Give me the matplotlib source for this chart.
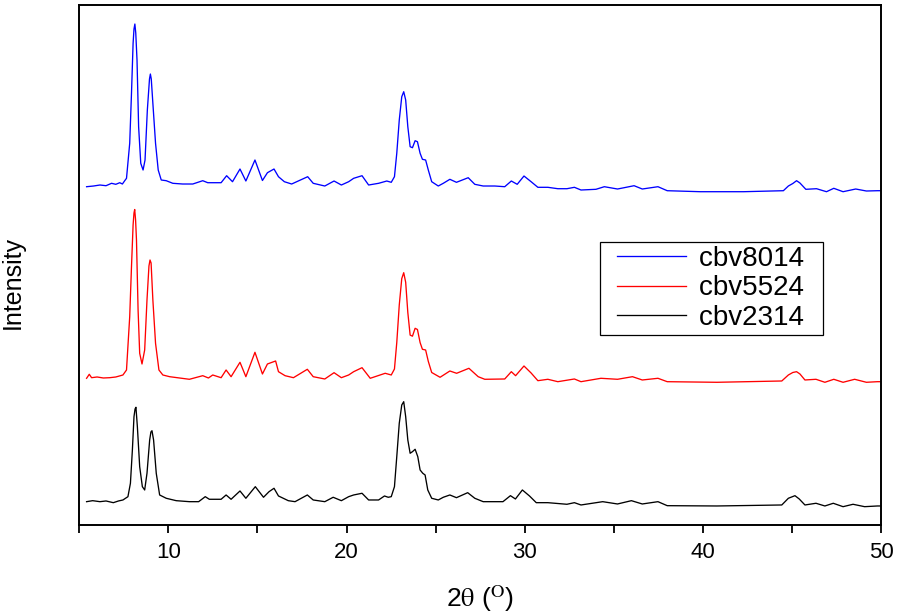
import numpy as np
import matplotlib
matplotlib.use("Agg")
import matplotlib.pyplot as plt
from matplotlib.legend_handler import HandlerLine2D

plt.rcParams["font.family"] = ["Liberation Sans", "DejaVu Sans"]
plt.rcParams["mathtext.fontset"] = "stix"

# XRD patterns: (2-theta in degrees, stacked intensity in arbitrary units)
cbv8014 = np.array([
    (5.41, 338.3), (5.8, 339.0), (6.16, 340.0), (6.5, 339.3), (6.81, 341.7), (7.05, 340.7),
    (7.27, 342.3), (7.42, 341.0), (7.55, 344.3), (7.65, 346.7), (7.83, 381.7), (7.93, 431.7),
    (8.02, 481.7), (8.07, 496.0), (8.12, 501.0), (8.17, 492.0), (8.24, 465.0), (8.33, 398.3),
    (8.45, 361.7), (8.58, 355.0), (8.69, 365.0), (8.82, 415.0), (8.94, 446.0), (8.99, 451.0),
    (9.04, 446.0), (9.13, 421.7), (9.28, 381.7), (9.43, 355.0), (9.60, 345.0), (9.88, 344.3),
    (10.25, 341.7), (10.8, 341.0), (11.37, 341.0), (11.93, 344.3), (12.21, 342.3),
    (12.96, 342.3), (13.27, 349.3), (13.60, 343.3), (14.02, 356.0), (14.35, 344.0),
    (14.86, 365.0), (15.28, 344.5), (15.56, 352.3), (15.93, 356.0), (16.18, 348.3),
    (16.51, 343.3), (16.92, 341.0), (17.82, 348.3), (18.13, 341.7), (18.78, 339.0),
    (19.30, 344.0), (19.71, 340.0), (20.12, 343.3), (20.40, 346.7), (20.87, 349.3),
    (21.24, 340.0), (21.80, 341.7), (22.26, 344.0), (22.51, 342.7), (22.69, 348.3),
    (22.82, 371.7), (22.96, 405.0), (23.10, 428.3), (23.21, 433.3), (23.32, 425.0),
    (23.44, 398.3), (23.57, 378.3), (23.70, 377.3), (23.85, 384.3), (23.98, 383.3),
    (24.13, 371.7), (24.26, 365.7), (24.44, 365.0), (24.59, 355.0), (24.78, 343.3),
    (25.15, 339.0), (25.43, 341.7), (25.80, 345.7), (26.17, 342.7), (26.83, 347.3),
    (27.20, 340.7), (27.67, 339.0), (28.32, 339.0), (28.88, 338.3), (29.25, 344.0),
    (29.58, 340.7), (29.96, 349.0), (30.36, 343.3), (30.74, 337.7), (31.30, 337.7),
    (31.86, 336.3), (32.37, 336.3), (32.79, 337.7), (33.16, 335.0), (34.0, 335.7),
    (34.47, 338.3), (35.21, 336.0), (35.58, 337.3), (36.14, 339.3), (36.60, 336.0),
    (37.48, 338.3), (38.0, 334.3), (39.86, 333.3), (42.28, 333.3), (44.52, 334.3),
    (44.80, 339.0), (45.05, 341.5), (45.26, 344.3), (45.45, 342.0), (45.78, 335.7),
    (46.38, 336.3), (46.94, 333.3), (47.35, 336.7), (47.87, 333.3), (48.58, 336.0),
    (49.18, 334.0), (49.80, 334.3), (50.0, 334.3),
])

cbv5524 = np.array([
    (5.41, 146.7), (5.56, 150.7), (5.69, 147.3), (6.0, 148.0), (6.35, 147.0), (6.71, 147.3),
    (7.05, 148.0), (7.45, 150.0), (7.65, 155.0), (7.83, 208.3), (7.93, 258.3), (8.02, 300.0),
    (8.07, 312.0), (8.11, 315.5), (8.16, 305.0), (8.21, 285.0), (8.30, 215.0), (8.39, 171.7),
    (8.52, 161.0), (8.67, 175.0), (8.80, 225.0), (8.91, 259.0), (8.97, 265.0), (9.03, 262.0),
    (9.13, 225.0), (9.28, 181.7), (9.47, 155.0), (9.69, 150.0), (10.07, 148.3),
    (11.18, 145.7), (11.93, 149.3), (12.25, 147.0), (12.49, 150.0), (12.96, 147.3),
    (13.24, 155.0), (13.52, 148.3), (14.02, 162.7), (14.35, 148.3), (14.86, 172.7),
    (15.28, 151.0), (15.56, 161.0), (16.02, 164.0), (16.18, 153.3), (16.55, 149.3),
    (17.02, 147.3), (17.80, 155.7), (18.13, 148.3), (18.78, 146.0), (19.30, 152.3),
    (19.71, 147.3), (20.12, 150.0), (20.40, 153.3), (20.87, 157.3), (21.33, 146.7),
    (22.17, 151.7), (22.51, 150.0), (22.69, 156.0), (22.82, 182.4), (22.96, 220.0),
    (23.10, 246.4), (23.21, 252.3), (23.32, 242.7), (23.44, 212.5), (23.57, 189.9),
    (23.70, 188.8), (23.85, 196.7), (23.98, 195.5), (24.13, 182.4), (24.26, 175.7),
    (24.44, 175.0), (24.59, 163.6), (24.78, 152.5), (25.25, 147.7), (25.80, 154.0),
    (26.18, 151.7), (26.87, 156.7), (27.39, 148.3), (27.76, 145.7), (28.88, 146.0),
    (29.25, 153.3), (29.49, 149.3), (29.96, 159.0), (30.36, 152.0), (30.74, 144.3),
    (31.30, 145.7), (31.86, 143.3), (32.79, 146.0), (33.16, 143.3), (34.28, 146.7),
    (35.21, 145.7), (36.05, 148.3), (36.60, 145.0), (37.48, 146.7), (38.0, 143.3),
    (40.79, 142.7), (44.43, 144.0), (44.80, 150.0), (45.05, 152.5), (45.26, 153.3),
    (45.45, 151.0), (45.73, 145.0), (46.35, 145.7), (46.85, 142.7), (47.35, 145.7),
    (47.87, 142.7), (48.52, 145.7), (49.18, 142.7), (49.80, 143.3), (50.0, 143.3),
])

cbv2314 = np.array([
    (5.41, 23.3), (5.75, 24.3), (6.16, 23.3), (6.5, 24.0), (6.91, 22.3), (7.2, 24.0),
    (7.45, 25.0), (7.73, 28.3), (7.87, 41.7), (7.98, 75.0), (8.07, 108.3), (8.13, 116.0),
    (8.18, 117.7), (8.26, 98.3), (8.39, 58.3), (8.54, 38.3), (8.67, 35.0), (8.80, 51.7),
    (8.95, 85.0), (9.02, 93.0), (9.08, 94.3), (9.17, 85.0), (9.32, 51.7), (9.51, 30.0),
    (9.88, 26.7), (10.44, 24.3), (11.18, 23.3), (11.70, 23.3), (12.07, 28.3), (12.30, 25.7),
    (12.96, 25.7), (13.24, 30.0), (13.52, 25.7), (14.02, 34.0), (14.35, 26.7), (14.88, 38.3),
    (15.34, 27.7), (15.65, 33.3), (15.93, 36.7), (16.18, 29.0), (16.73, 24.3), (17.11, 23.3),
    (17.80, 30.0), (18.13, 25.0), (18.78, 23.3), (19.25, 27.7), (19.71, 24.3), (20.12, 28.3),
    (20.40, 30.0), (20.87, 31.7), (21.24, 25.0), (21.80, 25.0), (22.13, 29.0), (22.34, 27.7),
    (22.51, 28.3), (22.69, 38.3), (22.82, 68.3), (22.96, 101.7), (23.10, 120.0),
    (23.21, 123.3), (23.32, 108.3), (23.44, 85.0), (23.57, 71.7), (23.70, 73.3),
    (23.85, 75.7), (24.0, 68.3), (24.13, 55.0), (24.28, 51.7), (24.41, 50.0), (24.56, 35.0),
    (24.78, 26.7), (25.15, 25.0), (25.43, 27.7), (25.80, 30.0), (26.17, 27.3), (26.80, 32.3),
    (27.20, 26.7), (27.67, 23.3), (28.78, 23.3), (29.20, 29.3), (29.48, 26.0), (29.87, 35.0),
    (30.27, 29.0), (30.65, 22.3), (31.30, 22.3), (32.37, 20.7), (32.79, 22.3), (33.16, 20.0),
    (34.38, 23.3), (35.21, 21.0), (35.99, 24.3), (36.60, 21.0), (37.48, 23.3), (38.0, 19.3),
    (40.79, 19.0), (44.43, 20.0), (44.80, 26.7), (45.17, 29.3), (45.41, 26.0), (45.73, 20.0),
    (46.35, 21.7), (46.85, 19.0), (47.32, 21.7), (47.87, 18.3), (48.43, 20.7), (49.08, 18.3),
    (49.80, 19.0), (50.0, 19.0),
])

labels = ["cbv8014", "cbv5524", "cbv2314"]
colors = ["#0000ff", "#ff0000", "#000000"]
patterns = [cbv8014, cbv5524, cbv2314]
x_ticks = [10, 20, 30, 40, 50]
x_minor = [5, 15, 25, 35, 45]

fig = plt.figure(figsize=(9.0, 6.13), dpi=100)
ax = fig.add_axes([0.0881, 0.1436, 0.8908, 0.8482])

for data, c, lab in zip(patterns, colors, labels):
    ax.plot(data[:, 0], data[:, 1], color=c, lw=0.95, label=lab + "  ")

ax.set_xlim(5, 50)
ax.set_ylim(0, 520)
ax.set_xticks(x_ticks)
ax.set_xticks(x_minor, minor=True)
ax.set_yticks([])
ax.tick_params(axis="x", which="both", direction="out", length=6, width=1.3,
               labelsize=16, pad=6)
for s in ax.spines.values():
    s.set_linewidth(1.4)

ax.set_xlabel(r"2$\mathrm{\theta}$ ($^{\mathrm{O}}$)", fontsize=19, labelpad=15)
ax.set_ylabel("Intensity", fontsize=18)
ax.yaxis.set_label_coords(-0.068, 0.467)

leg = ax.legend(loc="upper left", bbox_to_anchor=(0.650, 0.544), borderaxespad=0,
                fontsize=20, frameon=True, fancybox=False, framealpha=1,
                edgecolor="black", borderpad=0.14, labelspacing=0.12,
                handlelength=3.4, handletextpad=0.0,
                handler_map={plt.Line2D: HandlerLine2D(numpoints=2, marker_pad=0.47)})
leg.get_frame().set_linewidth(0.9)

fig.savefig("out.png", dpi=100)
